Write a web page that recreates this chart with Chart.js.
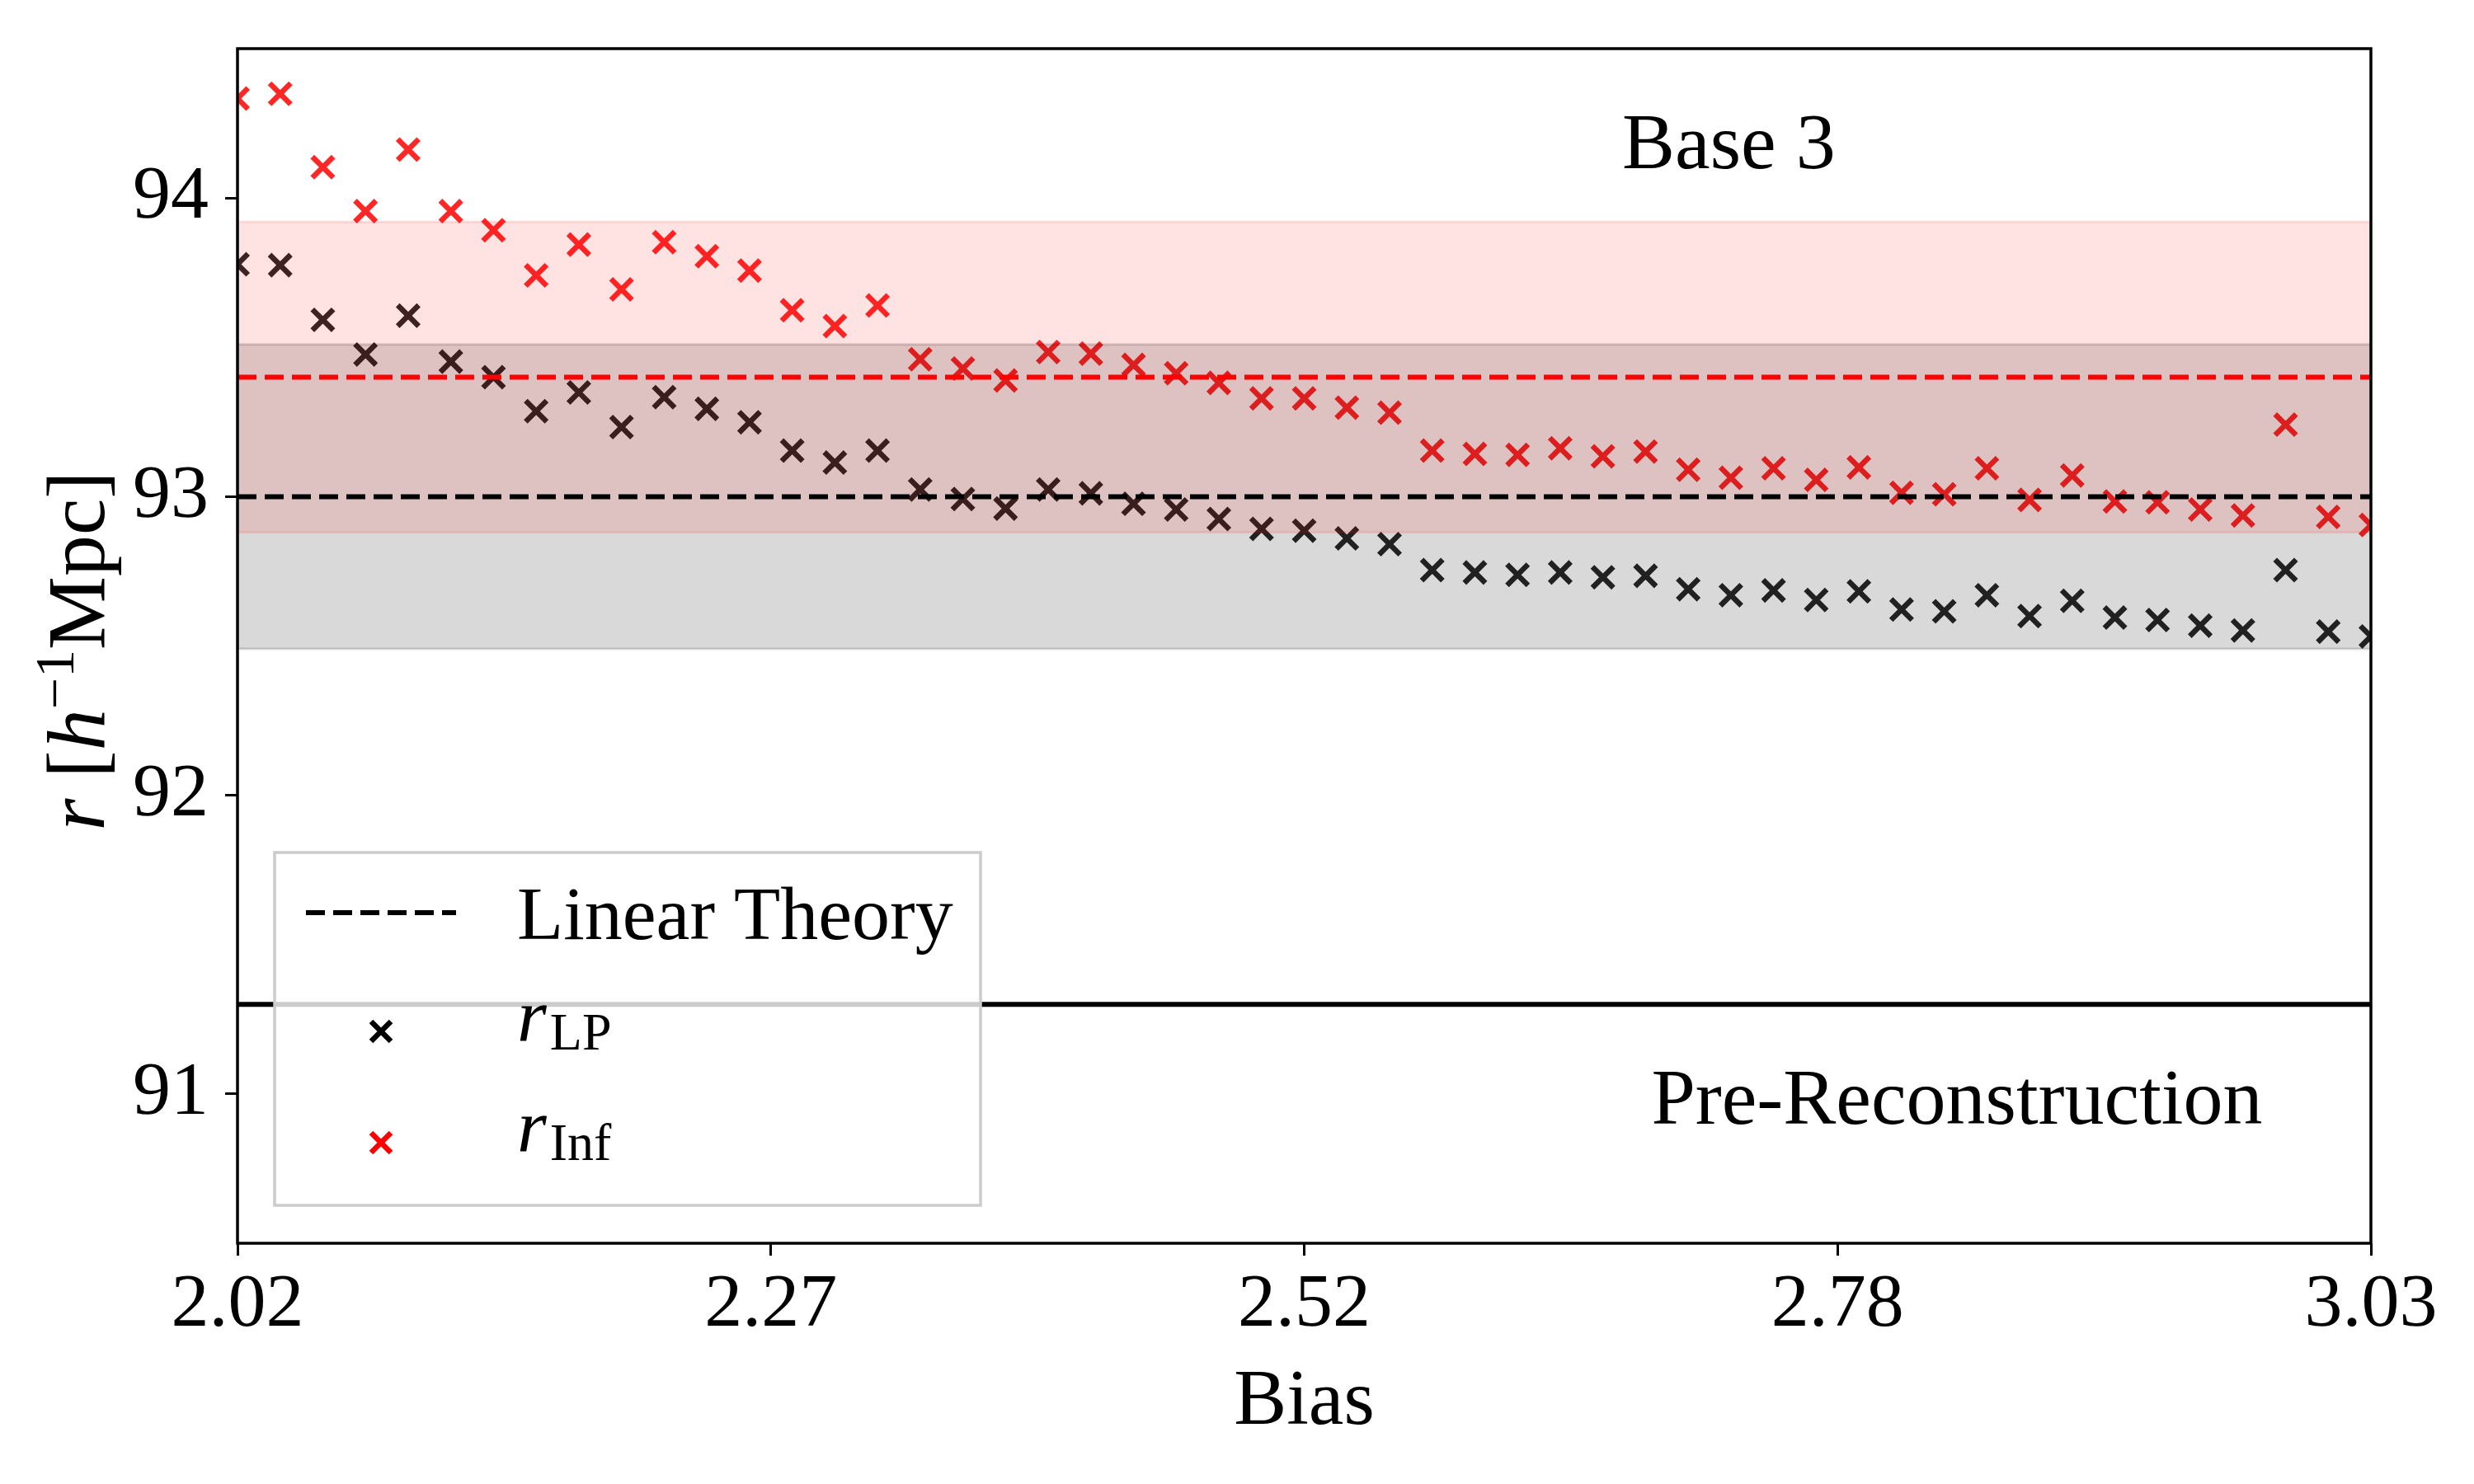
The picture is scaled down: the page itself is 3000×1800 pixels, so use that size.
<!DOCTYPE html>
<html>
<head>
<meta charset="utf-8">
<script src="https://cdn.jsdelivr.net/npm/chart.js@4.4.0/dist/chart.umd.min.js"></script>
<style>
html,body{margin:0;padding:0;background:#fff;}
canvas{display:block;}
</style>
</head>
<body>
<canvas id="c" width="3000" height="1800"></canvas>
<script>
// ---------------- data ----------------
const bias = [2.0200, 2.0402, 2.0604, 2.0806, 2.1008, 2.1210, 2.1412, 2.1614, 2.1816, 2.2018,
              2.2220, 2.2422, 2.2624, 2.2826, 2.3028, 2.3230, 2.3432, 2.3634, 2.3836, 2.4038,
              2.4240, 2.4442, 2.4644, 2.4846, 2.5048, 2.5250, 2.5452, 2.5654, 2.5856, 2.6058,
              2.6260, 2.6462, 2.6664, 2.6866, 2.7068, 2.7270, 2.7472, 2.7674, 2.7876, 2.8078,
              2.8280, 2.8482, 2.8684, 2.8886, 2.9088, 2.9290, 2.9492, 2.9694, 2.9896, 3.0098,
              3.0300];
const rLP  = [93.778, 93.775, 93.592, 93.476, 93.606, 93.452, 93.400, 93.286, 93.349, 93.233,
              93.333, 93.294, 93.249, 93.154, 93.114, 93.154, 93.024, 92.992, 92.960, 93.024,
              93.011, 92.976, 92.957, 92.925, 92.892, 92.886, 92.860, 92.841, 92.754, 92.746,
              92.738, 92.746, 92.730, 92.735, 92.690, 92.670, 92.686, 92.654, 92.683, 92.622,
              92.616, 92.670, 92.600, 92.651, 92.595, 92.587, 92.568, 92.552, 92.754, 92.548,
              92.532];
const rInf = [94.333, 94.349, 94.103, 93.956, 94.162, 93.956, 93.892, 93.741, 93.844, 93.694,
              93.852, 93.805, 93.757, 93.624, 93.571, 93.640, 93.460, 93.429, 93.389, 93.484,
              93.479, 93.441, 93.413, 93.381, 93.329, 93.329, 93.298, 93.281, 93.154, 93.143,
              93.140, 93.162, 93.135, 93.151, 93.090, 93.063, 93.095, 93.056, 93.098, 93.013,
              93.008, 93.095, 92.989, 93.071, 92.984, 92.981, 92.957, 92.937, 93.241, 92.932,
              92.905];
const linearTheoryLP  = 93.00;
const linearTheoryInf = 93.40;
const preRecon = 91.30;
const bandLP  = [92.49, 93.51];
const bandInf = [92.88, 93.92];
const xRange = [2.02, 3.03];
const yRange = [90.5, 94.5];
const xTicks = [2.02, 2.2725, 2.525, 2.7775, 3.03];
const xTickLabels = ['2.02', '2.27', '2.52', '2.78', '3.03'];
const yTicks = [91, 92, 93, 94];
const legendLabels = ['Linear Theory', ['r', 'LP'], ['r', 'Inf']];

// ---------------- style ----------------
const SERIF = '"Liberation Serif", "Times New Roman", serif';
Chart.defaults.font.family = SERIF;
Chart.defaults.color = '#000';

function hline(y, color, width, dash, order) {
  return {
    type: 'line',
    data: [{x: xRange[0], y: y}, {x: xRange[1], y: y}],
    borderColor: color, borderWidth: width, borderDash: dash,
    pointRadius: 0, fill: false, showLine: true, order: order, clip: 0
  };
}

const decor = {
  id: 'decor',
  afterDraw(chart) {
    const {ctx, chartArea: a, scales} = chart;
    const xs = scales.x, ys = scales.y;
    ctx.save();
    // spines
    ctx.strokeStyle = '#000';
    ctx.lineWidth = 3.5;
    ctx.strokeRect(a.left, a.top, a.right - a.left, a.bottom - a.top);

    // annotations
    ctx.fillStyle = '#000';
    ctx.textBaseline = 'alphabetic';
    ctx.textAlign = 'center';
    ctx.font = '96px ' + SERIF;
    ctx.fillText('Base 3', xs.getPixelForValue(2.726), ys.getPixelForValue(94.10));
    ctx.fillText('Pre-Reconstruction', xs.getPixelForValue(2.834), ys.getPixelForValue(90.90));
    // x label
    ctx.fillText('Bias', (a.left + a.right) / 2, a.bottom + 219);

    // y label (rotated)
    ctx.save();
    ctx.translate(a.left - 162, (a.top + a.bottom) / 2 + 6);
    ctx.rotate(-Math.PI / 2);
    ctx.textAlign = 'left';
    const segs = [
      {t: 'r', f: 'italic 100px ' + SERIF, dy: 0},
      {t: ' ', f: '100px ' + SERIF, dy: 0},
      {t: '[', f: '100px ' + SERIF, dy: 0},
      {t: 'h', f: 'italic 100px ' + SERIF, dy: 0},
      {t: '\u22121', f: '68px ' + SERIF, dy: -37},
      {t: 'Mpc', f: '100px ' + SERIF, dy: 0},
      {t: ']', f: '100px ' + SERIF, dy: 0}
    ];
    let total = 0;
    segs.forEach(s => { ctx.font = s.f; s.w = ctx.measureText(s.t).width; total += s.w; });
    let cx = -total / 2;
    segs.forEach(s => { ctx.font = s.f; ctx.fillText(s.t, cx, s.dy); cx += s.w; });
    ctx.restore();

    // legend
    ctx.textAlign = 'left';
    const L = a.left + 45, R = a.left + 901, T = a.bottom - 474, B = a.bottom - 46;
    ctx.fillStyle = 'rgba(255,255,255,0.8)';
    ctx.fillRect(L, T, R - L, B - T);
    ctx.strokeStyle = '#cccccc';
    ctx.lineWidth = 3.5;
    ctx.strokeRect(L, T, R - L, B - T);

    const sx0 = L + 38, sx1 = L + 220, smid = (sx0 + sx1) / 2, tx = L + 294;
    // row 1: dashed line
    ctx.strokeStyle = '#000';
    ctx.lineWidth = 6;
    ctx.setLineDash([23, 10]);
    ctx.beginPath();
    ctx.moveTo(sx0, T + 73);
    ctx.lineTo(sx1, T + 73);
    ctx.stroke();
    ctx.setLineDash([]);
    ctx.fillStyle = '#000';
    ctx.font = '92px ' + SERIF;
    ctx.fillText(legendLabels[0], tx, T + 105);

    // rows 2,3: markers
    const rows = [{y: T + 217, base: T + 228, c: '#000000', lab: legendLabels[1]},
                  {y: T + 352, base: T + 362, c: '#ff0000', lab: legendLabels[2]}];
    rows.forEach(r => {
      ctx.strokeStyle = r.c;
      ctx.lineWidth = 6.5;
      ctx.beginPath();
      const d = 12;
      ctx.moveTo(smid - d, r.y - d); ctx.lineTo(smid + d, r.y + d);
      ctx.moveTo(smid + d, r.y - d); ctx.lineTo(smid - d, r.y + d);
      ctx.stroke();
      ctx.fillStyle = '#000';
      ctx.font = 'italic 92px ' + SERIF;
      ctx.fillText(r.lab[0], tx, r.base);
      const w = ctx.measureText(r.lab[0]).width;
      ctx.font = '64px ' + SERIF;
      ctx.fillText(r.lab[1], tx + w + 4, r.base + 11);
    });
    ctx.restore();
  }
};

new Chart(document.getElementById('c'), {
  type: 'scatter',
  data: {
    datasets: [
      {label: 'r_LP', data: bias.map((b, i) => ({x: b, y: rLP[i]})),
       pointStyle: 'crossRot', pointRadius: 18, pointBorderWidth: 6.5,
       borderColor: 'rgba(0,0,0,0.85)', backgroundColor: 'rgba(0,0,0,0.85)',
       showLine: false, order: 10, clip: 0},
      {label: 'r_Inf', data: bias.map((b, i) => ({x: b, y: rInf[i]})),
       pointStyle: 'crossRot', pointRadius: 18, pointBorderWidth: 6.5,
       borderColor: 'rgba(255,0,0,0.85)', backgroundColor: 'rgba(255,0,0,0.85)',
       showLine: false, order: 9, clip: 0},
      hline(bandLP[1], 'rgba(0,0,0,0.15)', 3, [], 8),
      Object.assign(hline(bandLP[0], 'rgba(0,0,0,0.15)', 3, [], 8), {fill: '-1', backgroundColor: 'rgba(0,0,0,0.15)'}),
      hline(bandInf[1], 'rgba(255,0,0,0.11)', 3, [], 6),
      Object.assign(hline(bandInf[0], 'rgba(255,0,0,0.11)', 3, [], 6), {fill: '-1', backgroundColor: 'rgba(255,0,0,0.11)'}),
      hline(linearTheoryLP, '#000000', 6, [23, 10], 2),
      hline(linearTheoryInf, '#ff0000', 6, [23, 10], 2),
      hline(preRecon, '#000000', 6, [], 2)
    ]
  },
  options: {
    responsive: false,
    devicePixelRatio: 1,
    animation: false,
    events: [],
    layout: {padding: {left: 0, top: 59, right: 125, bottom: 0}},
    plugins: {legend: {display: false}, tooltip: {enabled: false}},
    scales: {
      x: {
        type: 'linear', min: xRange[0], max: xRange[1],
        border: {display: false},
        grid: {display: true, drawOnChartArea: false, drawTicks: true, tickLength: 15,
               tickWidth: 3, tickColor: '#000'},
        ticks: {autoSkip: false, maxRotation: 0, padding: 6, font: {size: 92, family: SERIF},
                color: '#000', callback: (v, i) => xTickLabels[i]},
        afterBuildTicks: s => { s.ticks = xTicks.map(v => ({value: v})); },
        afterFit: s => { s.height = 292; s.paddingLeft = 0; s.paddingRight = 0; }
      },
      y: {
        type: 'linear', min: yRange[0], max: yRange[1],
        border: {display: false},
        grid: {display: true, drawOnChartArea: false, drawTicks: true, tickLength: 15,
               tickWidth: 3, tickColor: '#000'},
        ticks: {padding: 20, font: {size: 92, family: SERIF}, color: '#000',
                callback: v => String(v)},
        afterBuildTicks: s => { s.ticks = yTicks.map(v => ({value: v})); },
        afterFit: s => { s.width = 288; s.paddingTop = 0; s.paddingBottom = 0; }
      }
    }
  },
  plugins: [decor]
});
</script>
</body>
</html>
